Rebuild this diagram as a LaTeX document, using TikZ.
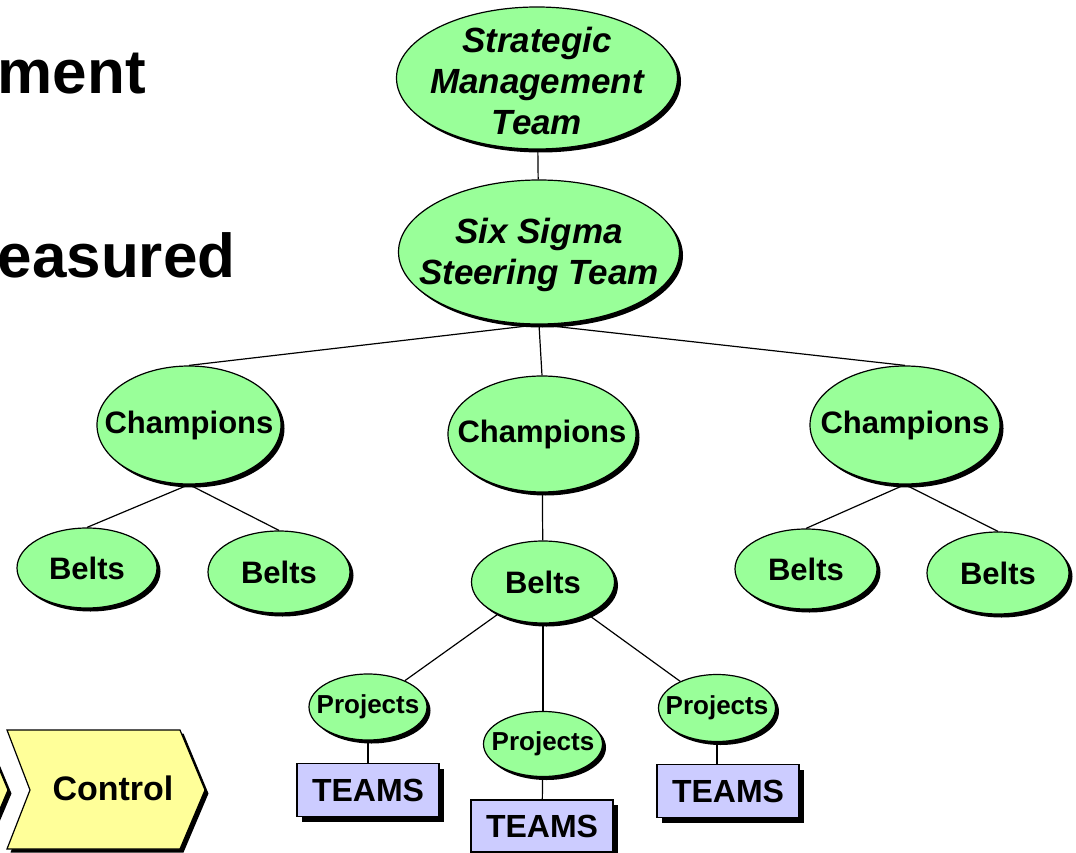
\documentclass[tikz,border=0pt]{standalone}
\usepackage{fontspec}
\setmainfont{Liberation Sans}
\usetikzlibrary{shapes.geometric,shadows}
\definecolor{leafgreen}{RGB}{153,255,153}
\definecolor{teamblue}{RGB}{204,204,255}
\definecolor{phaseyellow}{RGB}{255,255,153}

\begin{document}
\begin{tikzpicture}[x=1pt,y=-1pt,line width=1.2pt,
    blackshadow/.style={drop shadow={shadow xshift=3.5pt,shadow yshift=-3.5pt,fill=black,opacity=1}},
    ovaltext/.style={inner sep=0pt,align=center,font=\bfseries\fontsize{31}{36}\selectfont},
    ovalbase/.style={ellipse,draw,fill=leafgreen,inner sep=0pt,blackshadow},
    oval/.style={ovalbase,label={[ovaltext]center:#1}},
    bigoval/.style={ovalbase,label={[ovaltext,yshift=-3pt,font=\bfseries\itshape\fontsize{35}{41}\selectfont]center:#1}},
    smalloval/.style={ovalbase,label={[ovaltext,font=\bfseries\fontsize{26}{30}\selectfont]center:#1}},
    teambox/.style={draw,fill=teamblue,inner sep=0pt,minimum width=142pt,minimum height=53pt,
        font=\bfseries\fontsize{32}{36}\selectfont,
        drop shadow={shadow xshift=5pt,shadow yshift=-5pt,fill=black,opacity=1}},
    heading/.style={anchor=base west,inner sep=0pt,font=\bfseries\fontsize{62}{74}\selectfont}]
    \useasboundingbox (0,0) rectangle (1076,853);
    \clip (0,0) rectangle (1076,853);
    % slide text, cut at the left edge
    \node[heading] (ment) at (-3,94) {ment};
    \node[heading] (easured) at (-3,277) {easured};
    % phase arrows
    \path[draw,fill=phaseyellow,blackshadow] (-60,730) -- (-17,730) -- (8,790) -- (-17,849) -- (-60,849) -- cycle;
    \path[draw,fill=phaseyellow,blackshadow] (7,730) -- (180,730) -- (205,790) -- (180,849) -- (7,849) -- (30,790) -- cycle;
    \node[inner sep=0pt,font=\bfseries\fontsize{34}{40}\selectfont] (control) at (113,788) {Control};
    % organisation tree
    \node[bigoval={Strategic\\Management\\Team},minimum width=281pt,minimum height=142pt] (smt) at (537,78) {};
    \node[bigoval={Six Sigma\\Steering Team},minimum width=281pt,minimum height=144pt] (sst) at (539,252) {};
    \node[oval=Champions,minimum width=184pt,minimum height=118pt] (champL) at (189,425) {};
    \node[oval=Champions,minimum width=188pt,minimum height=116pt] (champM) at (542,434) {};
    \node[oval=Champions,minimum width=190pt,minimum height=118pt] (champR) at (905,425) {};
    \node[oval=Belts,minimum width=140pt,minimum height=80pt] (beltLL) at (87,568) {};
    \node[oval=Belts,minimum width=142pt,minimum height=82pt] (beltLR) at (279,572) {};
    \node[oval=Belts,minimum width=143pt,minimum height=82pt] (beltM) at (543,582) {};
    \node[oval=Belts,minimum width=142pt,minimum height=80pt] (beltRL) at (806,569) {};
    \node[oval=Belts,minimum width=142pt,minimum height=82pt] (beltRR) at (998,573) {};
    \node[smalloval=Projects,minimum width=118pt,minimum height=66pt] (projL) at (368,707) {};
    \node[smalloval=Projects,minimum width=119pt,minimum height=65pt] (projM) at (543,744) {};
    \node[smalloval=Projects,minimum width=117pt,minimum height=67pt] (projR) at (717,708) {};
    \node[teambox] (teamsL) at (368,790) {TEAMS};
    \node[teambox,minimum height=52pt] (teamsM) at (542,826) {TEAMS};
    \node[teambox] (teamsR) at (728,791) {TEAMS};
    % connectors
    \draw (smt) -- (sst);
    \draw (sst.south) -- (champL.north);
    \draw (sst.south) -- (champM.north);
    \draw (sst.south) -- (champR.north);
    \draw (champL.south) -- (beltLL.north);
    \draw (champL.south) -- (beltLR.north);
    \draw (champM) -- (beltM);
    \draw (champR.south) -- (beltRL.north);
    \draw (champR.south) -- (beltRR.north);
    \draw (beltM) -- (projL);
    \draw (beltM) -- (projM);
    \draw (beltM) -- (projR);
    \draw (projL) -- (teamsL);
    \draw (projM) -- (teamsM);
    \draw (projR.south) -- (projR.south |- teamsR.north);
\end{tikzpicture}
\end{document}
